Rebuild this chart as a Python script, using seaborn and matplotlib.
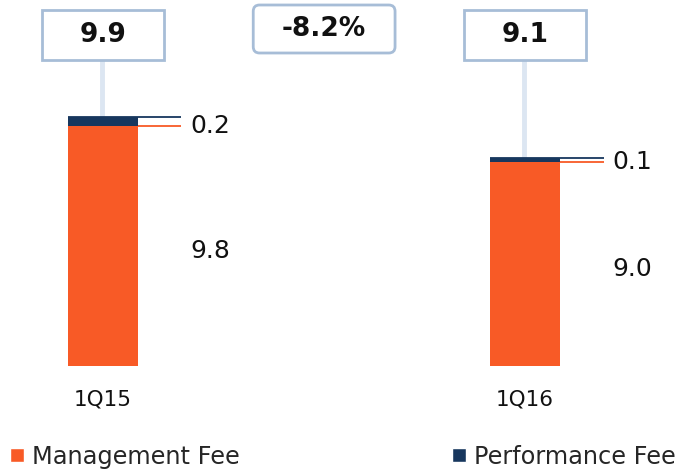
import matplotlib
matplotlib.use("Agg")
import matplotlib.pyplot as plt
from matplotlib.patches import Patch, Rectangle, FancyBboxPatch
import pandas as pd
import seaborn as sns

# Данные
quarters = ["1Q15", "1Q16"]
management_fee = [9.8, 9.0]
performance_fee = [0.2, 0.1]
total_labels = ["9.9", "9.1"]
change_label = "-8.2%"

ORANGE = "#F85A26"
NAVY = "#17375E"
BOX_EDGE = "#A7BDD7"
STEM = "#DCE6F2"

sns.set_theme(style="white")
plt.rcParams["font.family"] = ["DejaVu Sans"]

df = pd.DataFrame({
    "quarter": quarters,
    "management": management_fee,
    "total": [m + p for m, p in zip(management_fee, performance_fee)],
})

fig = plt.figure(figsize=(6.77, 4.69), dpi=100)
ax = fig.add_axes([0, 0.2196, 1, 0.7804])

y0 = 4.47
half = 0.083

# ножки от рамок к столбцам (под столбцами)
box_bottom = y0 + 306 / 45
box_top = y0 + 356 / 45
for i, t in enumerate(df["total"]):
    ax.plot([i - 0.003, i - 0.003], [t, box_bottom], color=STEM, lw=3.5,
            zorder=0.5, solid_capstyle="butt")

# Сначала полная высота (тёмная), поверх — management fee
sns.barplot(data=df, x="quarter", y="total", color=NAVY, width=0.166,
            saturation=1, linewidth=0, ax=ax, zorder=1)
sns.barplot(data=df, x="quarter", y="management", color=ORANGE, width=0.166,
            saturation=1, linewidth=0, ax=ax, zorder=1.1)

ax.set_xlim(-0.244, 1.36)
ax.set_ylim(y0, y0 + 366 / 45)
for s in ax.spines.values():
    s.set_visible(False)
ax.set_yticks([])
ax.set_xlabel("")
ax.set_ylabel("")
ax.tick_params(axis="x", length=0, pad=17, labelsize=15.5, labelcolor="#111111")

for i, (m, t) in enumerate(zip(df["management"], df["total"])):
    # выноски
    ax.plot([i - half, i + 0.186], [t, t], color=NAVY, lw=1.3, solid_capstyle="butt")
    ax.plot([i + half, i + 0.186], [m, m], color=ORANGE, lw=1.3, solid_capstyle="butt")
    ax.text(i + 0.207, m, f"{performance_fee[i]:.1f}", fontsize=18,
            va="center", ha="left", color="#111111")
    ax.text(i + 0.207, (y0 + m) / 2 - 0.12, f"{m:.1f}", fontsize=18,
            va="center", ha="left", color="#111111")
    # рамка с итогом
    ax.add_patch(Rectangle((i - 0.1435, box_bottom), 0.287, box_top - box_bottom,
                           facecolor="white", edgecolor=BOX_EDGE, lw=2, zorder=3,
                           clip_on=False))
    ax.text(i, (box_bottom + box_top) / 2, total_labels[i], fontsize=19,
            fontweight="bold", ha="center", va="center", color="#111111", zorder=4)

# рамка с изменением
cy_bot = y0 + 313 / 45
cy_top = y0 + 361 / 45
ax.add_patch(FancyBboxPatch((0.524 - 0.168, cy_bot), 0.336, cy_top - cy_bot,
                            boxstyle="round,pad=0,rounding_size=0.015",
                            mutation_aspect=422 / 45,
                            facecolor="white", edgecolor=BOX_EDGE, lw=2,
                            zorder=3, clip_on=False))
ax.text(0.524, (cy_bot + cy_top) / 2, change_label, fontsize=19, fontweight="bold",
        ha="center", va="center", color="#111111", zorder=4)

handles = [Patch(facecolor=ORANGE, label="Management Fee"),
           Patch(facecolor=NAVY, label="Performance Fee")]
fig.legend(handles=handles, loc="lower left", bbox_to_anchor=(-0.006, -0.03),
           ncol=2, frameon=False, fontsize=17.3, handlelength=0.55, handleheight=0.55,
           handletextpad=0.35, columnspacing=8.85, borderaxespad=0.2)

fig.savefig("out.png", dpi=100)
